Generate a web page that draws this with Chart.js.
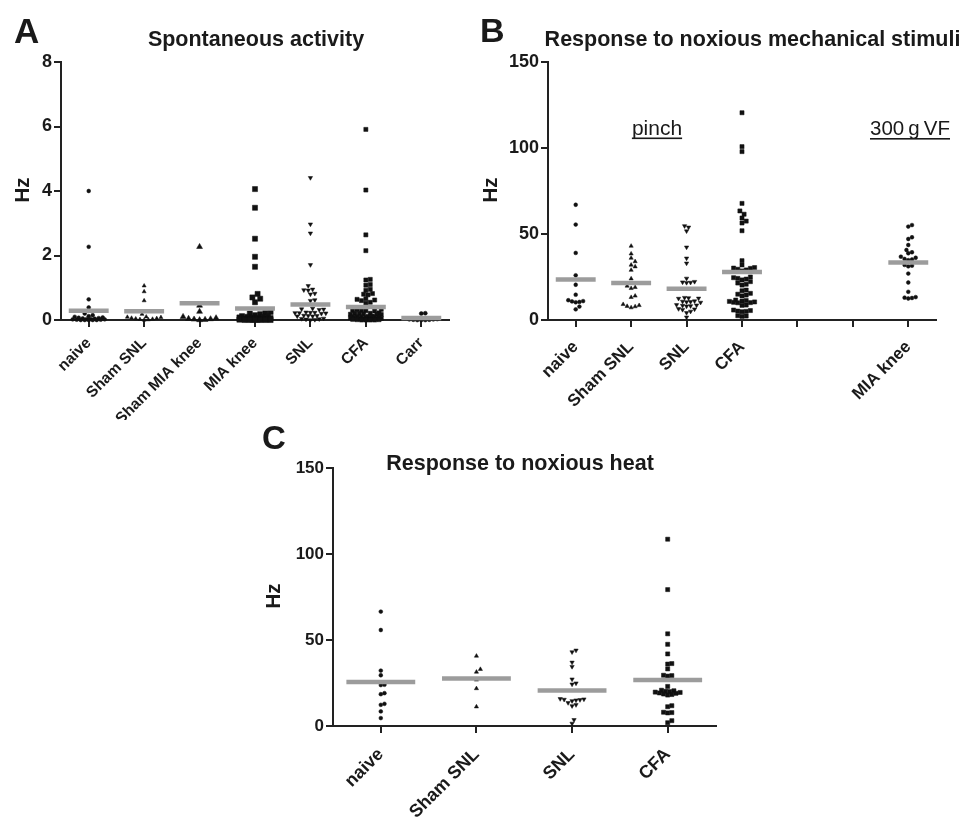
<!DOCTYPE html>
<html><head><meta charset="utf-8">
<script src="https://cdn.jsdelivr.net/npm/chart.js@4.4.0/dist/chart.umd.min.js"></script>
<style>
html,body{margin:0;padding:0;background:#fff;}
body{width:961px;height:818px;position:relative;overflow:hidden;}
canvas{position:absolute;display:block;}
</style></head><body>
<canvas id="ca" width="480" height="420" style="left:0;top:0;width:480px;height:420px"></canvas>
<canvas id="cb" width="481" height="420" style="left:480px;top:0;width:481px;height:420px"></canvas>
<canvas id="cc" width="480" height="398" style="left:240px;top:420px;width:480px;height:398px"></canvas>
<script>
// ---------------- DATA ----------------
// Panel A: spontaneous activity (Hz)
const catsA = ['naive', 'Sham SNL', 'Sham MIA knee', 'MIA knee', 'SNL', 'CFA', 'Carr'];
const yTicksA = [0, 2, 4, 6, 8];
const aNaive = [4.0, 2.27, 0.64, 0.39, 0.2, 0.15, 0.12, 0.1, 0.08, 0.07, 0.06, 0.05, 0.04, 0.03, 0.03, 0.02, 0.02, 0.01, 0.01, 0, 0, 0, 0, 0];
const aShamSNL = [1.06, 0.88, 0.6, 0.18, 0.1, 0.09, 0.08, 0.06, 0.05, 0.04, 0.03, 0.02, 0.01, 0];
const aShamMIA = [2.27, 0.45, 0.26, 0.1, 0.06, 0.04, 0.03, 0.02, 0.01, 0];
const aMIA = [4.06, 3.48, 2.52, 1.96, 1.65, 0.81, 0.7, 0.66, 0.55, 0.25, 0.22, 0.2, 0.18, 0.15, 0.12, 0.12, 0.1, 0.1, 0.08, 0.08, 0.07, 0.06, 0.05, 0.05, 0.04, 0.04, 0.03, 0.03, 0.02, 0.02, 0.02, 0.01, 0.01, 0.01, 0, 0, 0, 0, 0, 0];
const aSNL = [4.41, 2.97, 2.69, 1.71, 1.06, 0.95, 0.93, 0.92, 0.82, 0.8, 0.62, 0.6, 0.36, 0.34, 0.33, 0.32, 0.24, 0.23, 0.23, 0.22, 0.22, 0.21, 0.2, 0.14, 0.13, 0.13, 0.12, 0.12, 0.05, 0.04, 0.03, 0.02, 0.01, 0];
const aCFA = [5.91, 4.03, 2.64, 2.15, 1.26, 1.24, 1.1, 1.08, 0.95, 0.92, 0.82, 0.8, 0.78, 0.66, 0.64, 0.62, 0.6, 0.55, 0.52, 0.33, 0.32, 0.3, 0.3, 0.29, 0.28, 0.22, 0.21, 0.2, 0.2, 0.19, 0.18, 0.18, 0.17, 0.12, 0.11, 0.1, 0.1, 0.1, 0.09, 0.09, 0.08, 0.08, 0.07, 0.06, 0.05, 0.05, 0.04, 0.03, 0.03, 0.02, 0.02, 0.01, 0.01, 0, 0, 0, 0];
const aCarr = [0.21, 0.2, 0.03, 0.02, 0.02, 0.01, 0.01, 0, 0, 0];
const meansA = [0.29, 0.27, 0.52, 0.36, 0.48, 0.40, 0.06];

// Panel B: response to noxious mechanical stimuli (Hz)
const catsB = ['naive', 'Sham SNL', 'SNL', 'CFA', '', '', 'MIA knee'];
const yTicksB = [0, 50, 100, 150];
const bNaive = [67, 55.5, 39, 26, 20.5, 14.7, 11.5, 11, 10.8, 10.5, 10.3, 7.8, 6.2];
const bShamSNL = [43, 38.5, 36, 34, 32, 31, 29, 24, 19.8, 19, 18.4, 14, 13.2, 9.1, 8.5, 8, 7.8, 7.2];
const bSNL = [54.7, 53.9, 51.7, 42.3, 35.9, 33, 24.2, 22.3, 22, 21.8, 21.7, 13, 12.8, 12.6, 12.5, 11, 10.8, 10.6, 10.5, 10.2, 8.8, 8.6, 8.4, 8.2, 8, 6.5, 6.3, 6, 5, 4.2, 1.6];
const bCFA = [120.5, 100.8, 97.9, 67.8, 63.4, 61.5, 59.3, 57.5, 56.4, 51.9, 34.5, 32, 30.5, 30.2, 30, 29.5, 29.1, 28.5, 25, 24.6, 24.2, 23.8, 23.3, 22.3, 21.5, 20.8, 20.3, 17.4, 17, 15.5, 15, 14.5, 14, 11.6, 11.3, 11, 10.8, 10.5, 10.3, 10.1, 10, 8.7, 8.5, 5.8, 5.5, 5.2, 5, 4.8, 2.5, 2.3, 2.1];
const bMIA = [55.2, 54.3, 48.1, 47.1, 43.6, 40.7, 39.4, 38.8, 36.8, 36.2, 35.5, 35.2, 34.8, 32, 31.6, 31.2, 27, 21.8, 16.4, 13.3, 13, 12.8, 12.5];
const meansB = [23.5, 21.5, 18.2, 27.9, 33.5];

// Panel C: response to noxious heat (Hz)
const catsC = ['naive', 'Sham SNL', 'SNL', 'CFA'];
const yTicksC = [0, 50, 100, 150];
const cNaive = [66.5, 55.8, 32.2, 29.5, 24, 23.8, 19.1, 18.5, 12.9, 12.3, 8.5, 4.6];
const cShamSNL = [40.7, 33, 31.4, 26.8, 21.8, 11.2];
const cSNL = [44, 43, 37, 34.5, 27.2, 24.9, 24.3, 15.8, 15.6, 15.4, 15.2, 15, 14.6, 13.5, 12.3, 11.7, 3.6, 1.5];
const cCFA = [108.6, 79.3, 53.6, 47.5, 41.9, 36.3, 36, 33.2, 29.5, 29.3, 29, 23, 20.8, 20.5, 20.2, 20, 19.7, 19.5, 19.2, 19, 18.6, 18.3, 18, 11.8, 11.2, 8, 7.8, 7.6, 3.1, 1.9];
const meansC = [25.6, 27.6, 20.6, 26.8];

// ---------------- RENDERING ----------------
const FAM = '"Liberation Sans", Arial, Helvetica, sans-serif';
const INK = '#1a1a1a';

// deterministic beeswarm: spreads points of similar value sideways
function swarm(vals, ci, pyu, pxu, d, maxPx) {
  const idx = vals.map((v, i) => i).sort((a, b) => vals[a] - vals[b]);
  const step = d / 2;
  const cands = [0];
  for (let k = 1; k * step <= maxPx; k++) cands.push(k * step, -k * step);
  const placed = [], out = new Array(vals.length);
  for (const i of idx) {
    const y = vals[i] * pyu;
    let best = 0, bestD = -1;
    for (const c of cands) {
      let md = Infinity;
      for (const p of placed) {
        const dd = Math.hypot(c - p[0], y - p[1]);
        if (dd < md) md = dd;
      }
      if (md >= d) { best = c; bestD = md; break; }
      if (md > bestD) { bestD = md; best = c; }
    }
    placed.push([best, y]);
    out[i] = { x: ci + best / pxu, y: vals[i] };
  }
  return out;
}

const textPlugin = {
  id: 'txt',
  afterDraw(chart, args, opts) {
    const ctx = chart.ctx;
    for (const t of (opts.items || [])) {
      ctx.save();
      ctx.font = (t.bold ? 'bold ' : '') + t.size + 'px ' + FAM;
      ctx.fillStyle = INK;
      ctx.textBaseline = 'alphabetic';
      ctx.textAlign = t.align || 'left';
      ctx.translate(t.x, t.y);
      if (t.rot) ctx.rotate(t.rot * Math.PI / 180);
      ctx.fillText(t.text, 0, 0);
      if (t.underline) {
        const w = ctx.measureText(t.text).width;
        const x0 = t.align === 'center' ? -w / 2 : 0;
        ctx.fillRect(x0, t.underline, w, 1.6);
      }
      ctx.restore();
    }
  }
};

function makePanel(id, P) {
  const W = P.w, H = P.h, A = P.area;
  const plotW = A.r - A.l, plotH = A.b - A.t;
  const nCat = P.cats.length;
  const pxu = plotW / nCat;
  const yMax = P.yTicks[P.yTicks.length - 1];
  const pyu = plotH / yMax;
  const datasets = [];
  P.groups.forEach((g, gi) => {
    const ci = P.pos[gi];
    datasets.push({
      type: 'scatter',
      data: swarm(g.vals, ci, pyu, pxu, g.d, P.maxPx),
      pointStyle: g.style,
      pointRadius: g.r,
      pointRotation: g.rot || 0,
      backgroundColor: '#111',
      borderColor: '#111',
      borderWidth: 0.5,
      order: 1,
      clip: false
    });
    datasets.push({
      type: 'line',
      data: [{ x: ci - 0.36, y: P.means[gi] }, { x: ci + 0.36, y: P.means[gi] }],
      borderColor: '#9c9c9c',
      borderWidth: 4.5,
      borderCapStyle: 'butt',
      pointRadius: 0,
      order: 0,
      clip: false
    });
  });
  const gridOpts = { display: true, drawOnChartArea: false, drawTicks: true, tickLength: 7, tickColor: '#222', tickWidth: 2, lineWidth: 2, color: '#222' };
  const borderOpts = { display: true, color: '#222', width: 2 };
  new Chart(document.getElementById(id), {
    type: 'scatter',
    data: { datasets },
    plugins: [textPlugin],
    options: {
      responsive: false,
      animation: false,
      events: [],
      layout: { padding: { left: 0, top: A.t, right: W - A.r, bottom: 0 } },
      plugins: { legend: { display: false }, tooltip: { enabled: false }, txt: { items: P.texts } },
      scales: {
        x: {
          type: 'linear', min: -0.5, max: nCat - 0.5,
          afterBuildTicks(s) { s.ticks = P.cats.map((c, i) => ({ value: i })); },
          afterFit(s) { s.height = H - A.b; s.paddingLeft = 0; s.paddingRight = 0; },
          ticks: {
            autoSkip: false, maxRotation: 45, minRotation: 45, padding: P.xPad, color: INK,
            font: { family: FAM, size: P.xFont, weight: 'bold' },
            callback: (v) => P.cats[Math.round(v)] || ''
          },
          grid: gridOpts, border: borderOpts
        },
        y: {
          type: 'linear', min: 0, max: yMax,
          afterBuildTicks(s) { s.ticks = P.yTicks.map(v => ({ value: v })); },
          afterFit(s) { s.width = A.l; s.paddingTop = 0; s.paddingBottom = 0; },
          ticks: { padding: 2, color: INK, font: { family: FAM, size: P.yFont, weight: 'bold' } },
          grid: gridOpts, border: borderOpts
        }
      }
    }
  });
}

makePanel('ca', {
  w: 480, h: 420, area: { l: 61, t: 62, r: 449, b: 320 },
  cats: catsA, pos: [0, 1, 2, 3, 4, 5, 6], yTicks: yTicksA, means: meansA,
  xFont: 15.5, xPad: 7, yFont: 18, maxPx: 17,
  groups: [
    { vals: aNaive, style: 'circle', r: 1.9, d: 4 },
    { vals: aShamSNL, style: 'triangle', r: 2.3, d: 4.2 },
    { vals: aShamMIA, style: 'triangle', r: 3.4, d: 5.5 },
    { vals: aMIA, style: 'rect', r: 3.6, d: 5.2 },
    { vals: aSNL, style: 'triangle', r: 2.5, rot: 180, d: 4.4 },
    { vals: aCFA, style: 'rect', r: 2.9, d: 4.4 },
    { vals: aCarr, style: 'circle', r: 2.0, d: 4 }
  ],
  texts: [
    { text: 'A', x: 14, y: 43, size: 35, bold: true },
    { text: 'Spontaneous activity', x: 256, y: 46, size: 21.5, bold: true, align: 'center' },
    { text: 'Hz', x: 29, y: 190, size: 20.5, bold: true, rot: -90, align: 'center' }
  ]
});

makePanel('cb', {
  w: 481, h: 420, area: { l: 68, t: 62, r: 456, b: 320 },
  cats: catsB, pos: [0, 1, 2, 3, 6], yTicks: yTicksB, means: meansB,
  xFont: 17, xPad: 10, yFont: 18, maxPx: 15,
  groups: [
    { vals: bNaive, style: 'circle', r: 1.9, d: 3.7 },
    { vals: bShamSNL, style: 'triangle', r: 2.4, d: 4 },
    { vals: bSNL, style: 'triangle', r: 2.5, rot: 180, d: 4 },
    { vals: bCFA, style: 'rect', r: 2.9, d: 4.2 },
    { vals: bMIA, style: 'circle', r: 1.9, d: 3.7 }
  ],
  texts: [
    { text: 'B', x: 0, y: 42, size: 34, bold: true },
    { text: 'Response to noxious mechanical stimuli', x: 272.5, y: 46, size: 21.5, bold: true, align: 'center' },
    { text: 'Hz', x: 17, y: 190, size: 20.5, bold: true, rot: -90, align: 'center' },
    { text: 'pinch', x: 177, y: 135, size: 21, align: 'center', underline: 2.5 },
    { text: '300\u2009g\u2009VF', x: 430, y: 135, size: 20.5, align: 'center', underline: 3 }
  ]
});

makePanel('cc', {
  w: 480, h: 398, area: { l: 93, t: 48, r: 480, b: 306 },
  cats: catsC, pos: [0, 1, 2, 3], yTicks: yTicksC, means: meansC,
  xFont: 18, xPad: 11, yFont: 17, maxPx: 16,
  groups: [
    { vals: cNaive, style: 'circle', r: 1.9, d: 3.7 },
    { vals: cShamSNL, style: 'triangle', r: 2.4, d: 4 },
    { vals: cSNL, style: 'triangle', r: 2.5, rot: 180, d: 4 },
    { vals: cCFA, style: 'rect', r: 2.9, d: 4.2 }
  ],
  texts: [
    { text: 'C', x: 22, y: 29, size: 33, bold: true },
    { text: 'Response to noxious heat', x: 280, y: 50, size: 21.5, bold: true, align: 'center' },
    { text: 'Hz', x: 40, y: 176, size: 20.5, bold: true, rot: -90, align: 'center' }
  ]
});
</script>
</body></html>
